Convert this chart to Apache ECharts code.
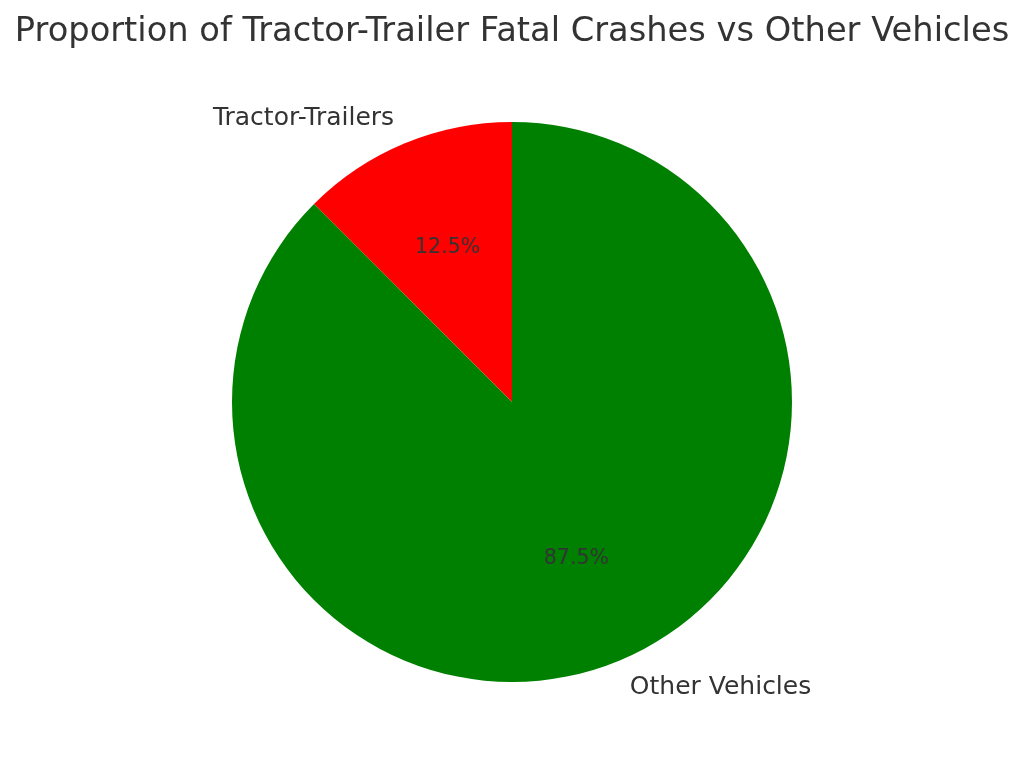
<!DOCTYPE html>
<html>
<head>
<meta charset="utf-8">
<script src="https://cdn.jsdelivr.net/npm/echarts@6/dist/echarts.min.js"></script>
<style>
  html, body { margin: 0; padding: 0; background: #fff; }
  #chart { width: 1024px; height: 767px; }
</style>
</head>
<body>
<div id="chart"></div>
<script>
// slices, counter-clockwise from 12 o'clock
var categories = ['Tractor-Trailers', 'Other Vehicles']
var values = [12.5, 87.5]
var colors = ['#ff0000', '#008000']

var chart = echarts.init(document.getElementById('chart'))

var font = 'DejaVu Sans'
var R = 280

var slices = categories.map(function (name, i) {
  return { name: name, value: values[i], itemStyle: { color: colors[i] } }
})

var option = {
  animation: false,
  title: {
    text: 'Proportion of Tractor-Trailer Fatal Crashes vs Other Vehicles',
    left: 'center',
    top: 10,
    textStyle: { fontFamily: font, fontSize: 33.7, fontWeight: 'normal', color: '#333333' }
  },
  series: [
    {
      // the pie itself + outer name labels
      type: 'pie',
      center: [512, 402],
      radius: [0, R],
      startAngle: 90,
      clockwise: false,
      avoidLabelOverlap: false,
      data: slices,
      label: {
        show: true,
        position: 'outside',
        formatter: '{b}',
        fontFamily: font,
        fontSize: 25,
        color: '#333333',
        distanceToLabelLine: 0,
        offset: [0, 1]
      },
      labelLine: { show: false, length: R * 0.1, length2: 0 },
      emphasis: { disabled: true }
    },
    {
      // invisible ring, just to put percent labels at ~0.6 r
      type: 'pie',
      silent: true,
      center: [512, 402],
      radius: [0, R * 1.18],
      startAngle: 90,
      clockwise: false,
      data: categories.map(function (name, i) {
        return { name: name, value: values[i] }
      }),
      itemStyle: { color: 'rgba(0,0,0,0)' },
      label: {
        show: true,
        position: 'inside',
        formatter: function (p) { return p.value.toFixed(1) + '%' },
        fontFamily: font,
        fontSize: 20.5,
        color: '#333333',
        offset: [0, 1.5]
      },
      labelLine: { show: false },
      z: 3
    }
  ]
}

chart.setOption(option)
</script>
</body>
</html>
